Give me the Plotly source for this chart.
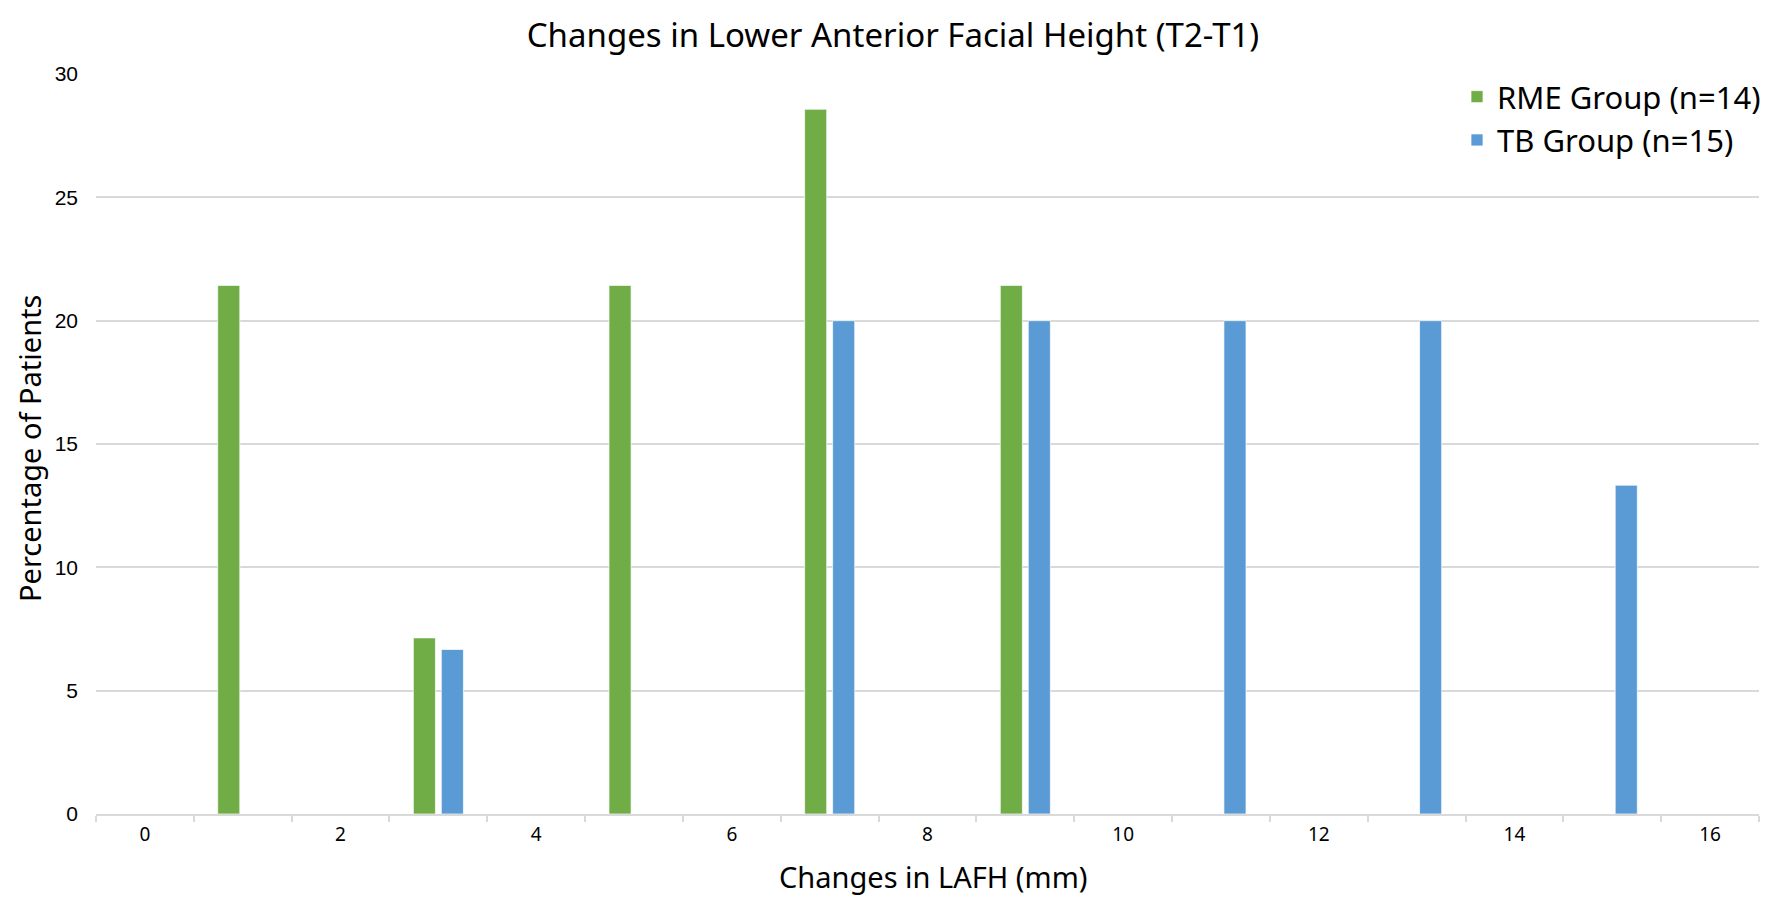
import plotly.graph_objects as go

categories = list(range(0, 17))
tick_labels = ["0", "2", "4", "6", "8", "10", "12", "14", "16"]
tick_positions = [0, 2, 4, 6, 8, 10, 12, 14, 16]

rme_values = [0, 21.43, 0, 7.14, 0, 21.43, 0, 28.57, 0, 21.43, 0, 0, 0, 0, 0, 0, 0]
tb_values = [0, 0, 0, 6.67, 0, 0, 0, 20.0, 0, 20.0, 0, 20.0, 0, 20.0, 0, 13.33, 0]

rme_name = "RME Group (n=14)"
tb_name = "TB Group (n=15)"

font_main = "Noto Sans, Open Sans, sans-serif"

W, H = 1770, 900
L, R, T, B = 88, 19, 66, 94
PW, PH = W - L - R, H - T - B


def px_x(x):
    return (x - L) / PW


def px_y(y):
    return (H - B - y) / PH


fig = go.Figure()
fig.add_trace(go.Bar(x=categories, y=rme_values, name=rme_name,
                     marker=dict(color="#70AD47", line=dict(color="rgba(255,255,255,0.7)", width=1))))
fig.add_trace(go.Bar(x=categories, y=tb_values, name=tb_name,
                     marker=dict(color="#5B9BD5", line=dict(color="rgba(255,255,255,0.7)", width=1))))

fig.update_layout(
    width=W, height=H,
    paper_bgcolor="white", plot_bgcolor="white",
    barmode="group", bargap=0.428, bargroupgap=0.21,
    margin=dict(l=L, r=R, t=T, b=B),
    title=dict(text="Changes in Lower Anterior Facial Height (T2-T1)",
               x=0.5, xanchor="center", y=1 - 27 / H, yanchor="middle", yref="container",
               font=dict(family=font_main, size=33, color="black")),
    legend=dict(x=px_x(1449), y=px_y(62), xanchor="left", yanchor="top",
                font=dict(family=font_main, size=31, color="#000000"),
                bgcolor="rgba(0,0,0,0)", tracegroupgap=0),
    showlegend=True,
    annotations=[
        dict(text="Changes in LAFH (mm)", x=px_x(925), y=px_y(868), xref="paper", yref="paper",
             xanchor="center", yanchor="middle", showarrow=False,
             font=dict(family=font_main, size=29, color="black")),
        dict(text="Percentage of Patients", x=px_x(21), y=px_y(441), xref="paper", yref="paper",
             xanchor="center", yanchor="middle", showarrow=False, textangle=-90,
             font=dict(family=font_main, size=29, color="black")),
    ],
)

fig.update_xaxes(
    range=[-0.5, 16.5],
    tickmode="array", tickvals=tick_positions, ticktext=tick_labels,
    ticks="", showgrid=False, zeroline=False,
    showline=True, linecolor="#D9D9D9", linewidth=1.5,
    tickfont=dict(family=font_main, size=19, color="black"),
    ticklabelstandoff=2,
    minor=dict(tickmode="linear", tick0=-0.5, dtick=1, ticks="outside",
               ticklen=6, tickcolor="#D9D9D9", tickwidth=1.5, showgrid=False),
)

fig.update_yaxes(
    range=[0, 30], dtick=5, tick0=0,
    showgrid=True, gridcolor="#D9D9D9", gridwidth=1.5,
    zeroline=False, showline=False, ticks="",
    tickfont=dict(family="Liberation Sans, Arial, sans-serif", size=21, color="black"),
    ticklabelstandoff=17,
)

fig.write_html("out.html")
